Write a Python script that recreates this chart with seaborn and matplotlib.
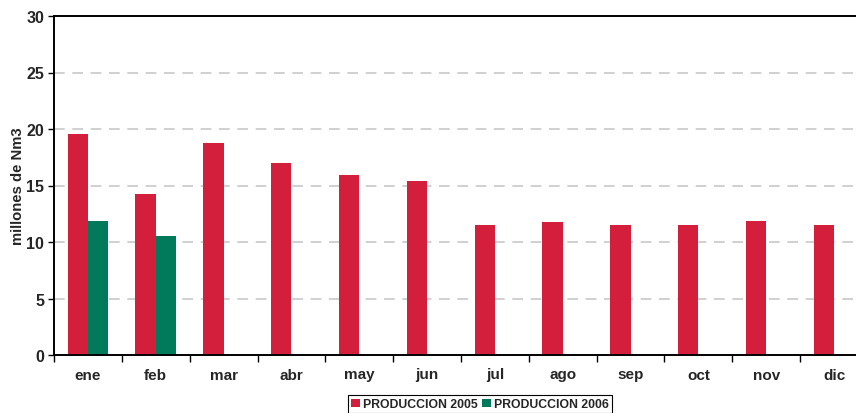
import numpy as np
import pandas as pd
import matplotlib
matplotlib.use("Agg")
import matplotlib.pyplot as plt
from matplotlib.ticker import FixedLocator
import seaborn as sns

meses = ["ene", "feb", "mar", "abr", "may", "jun", "jul", "ago", "sep", "oct", "nov", "dic"]
prod_2005 = [19.55, 14.25, 18.75, 17.0, 15.95, 15.4, 11.5, 11.8, 11.5, 11.5, 11.85, 11.5]
prod_2006 = [11.85, 10.55, np.nan, np.nan, np.nan, np.nan, np.nan, np.nan, np.nan, np.nan, np.nan, np.nan]
series = ["PRODUCCION 2005", "PRODUCCION 2006"]
colores = ["#D41F3C", "#007A5B"]

df = pd.DataFrame({
    "mes": meses * 2,
    "serie": [series[0]] * 12 + [series[1]] * 12,
    "valor": prod_2005 + prod_2006,
})

sns.set_theme(style="white")
plt.rcParams["font.family"] = ["Liberation Sans", "DejaVu Sans"]
plt.rcParams["font.weight"] = "bold"

fig = plt.figure(figsize=(8.56, 4.14), dpi=100)
ax = fig.add_axes([54 / 856, 1 - 356 / 414, 814 / 856, 339 / 414])

sns.barplot(data=df, x="mes", y="valor", hue="serie", order=meses,
            hue_order=series, palette=colores, width=0.6, gap=0,
            saturation=1, linewidth=0, ax=ax, legend=True)

ax.set_xlim(-0.5, 11.5)
ax.set_ylim(0, 30)
ax.set_yticks(range(0, 31, 5))
ax.set_xlabel("")
ax.set_ylabel("millones de Nm3", fontsize=10.7, fontweight="bold", labelpad=1)

# horizontal dashed gridlines
for v in range(5, 30, 5):
    ax.axhline(v, color="#c4c4c4", lw=1.1, ls=(0, (7, 5)), zorder=0)

for side in ["left", "bottom", "top"]:
    ax.spines[side].set_visible(True)
    ax.spines[side].set_color("black")
    ax.spines[side].set_linewidth(1.4)
ax.spines["right"].set_visible(False)

ax.tick_params(axis="y", which="major", direction="out", length=4, width=1,
               color="black", labelsize=11.5, pad=3, left=True)
ax.tick_params(axis="x", which="major", length=0, labelsize=11, pad=9)
ax.xaxis.set_minor_locator(FixedLocator(np.arange(-0.5, 12, 1)))
ax.tick_params(axis="x", which="minor", direction="out", length=5, width=1,
               color="black", bottom=True)
for lab in ax.get_xticklabels() + ax.get_yticklabels():
    lab.set_fontweight("bold")

leg = ax.get_legend()
if leg is not None:
    leg.remove()
handles, labels = ax.get_legend_handles_labels()
fig.legend(handles[:2], labels[:2], loc="upper center",
           bbox_to_anchor=(480 / 856, 1 - 396 / 414), ncol=2,
           frameon=True, fancybox=False, edgecolor="black", framealpha=1,
           prop={"weight": "bold", "size": 8.8}, handlelength=0.7,
           handleheight=0.7, handletextpad=0.25, columnspacing=0.35,
           borderpad=0.25, borderaxespad=0)
fig.legends[0].get_frame().set_linewidth(0.8)

fig.savefig("out.png", dpi=100, facecolor="white")
